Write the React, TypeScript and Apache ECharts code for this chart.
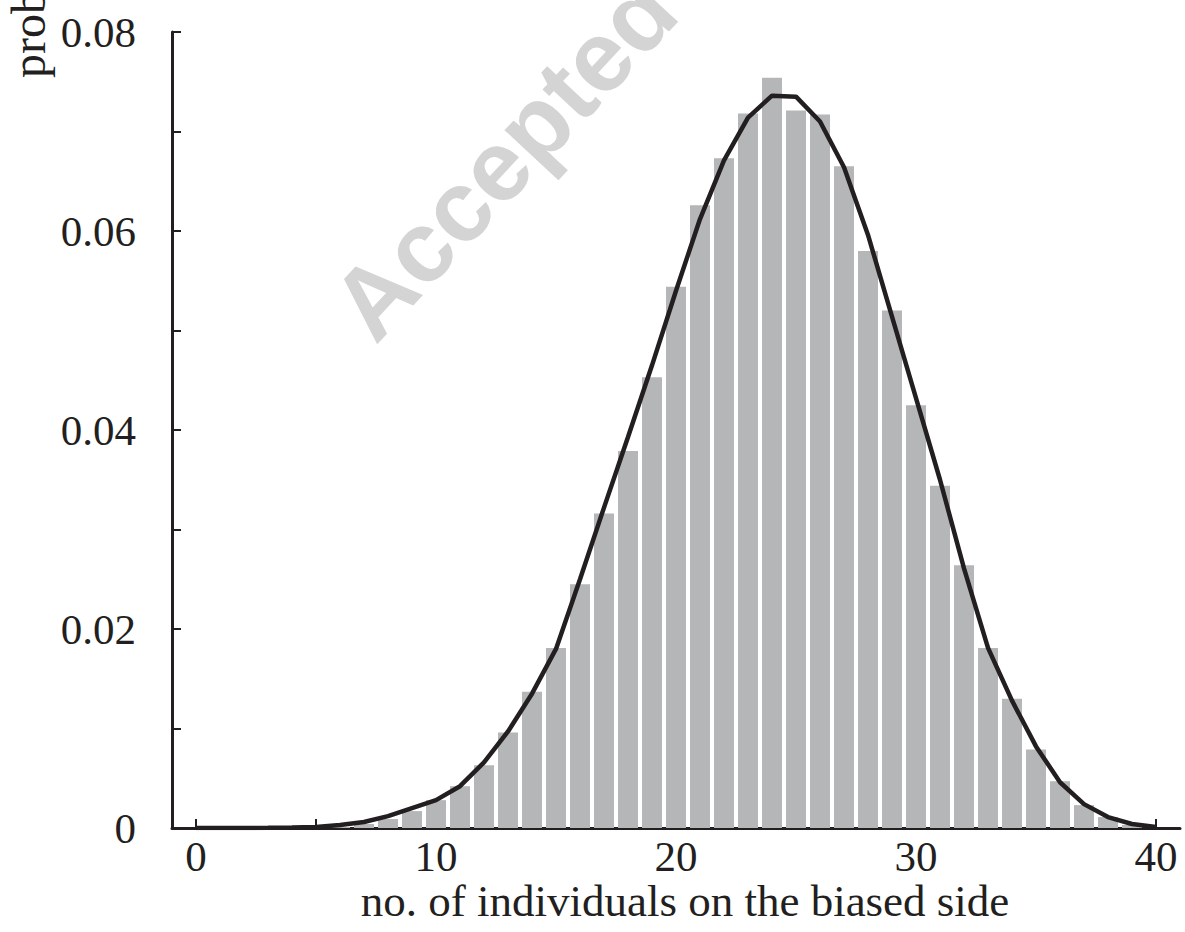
import React, { useEffect, useRef } from "react";
import * as echarts from "echarts";

const xValues = [0, 1, 2, 3, 4, 5, 6, 7, 8, 9, 10, 11, 12, 13, 14, 15, 16, 17, 18, 19, 20, 21, 22, 23, 24, 25, 26, 27, 28, 29, 30, 31, 32, 33, 34, 35, 36, 37, 38, 39, 40];

const barValues = [0, 0, 0, 0, 0, 0, 0.0001, 0.0004, 0.0009, 0.0017, 0.0028, 0.0042, 0.0063, 0.0096, 0.0137, 0.0181, 0.0245, 0.0316, 0.0379, 0.0453, 0.0544, 0.0626, 0.0673, 0.0718, 0.0754, 0.0721, 0.0717, 0.0665, 0.058, 0.052, 0.0425, 0.0344, 0.0264, 0.0181, 0.013, 0.0079, 0.0047, 0.0023, 0.0011, 0.0003, 0];

const curveValues = [0, 0, 0, 0.00002, 0.00005, 0.0001, 0.0003, 0.0006, 0.0012, 0.002, 0.0028, 0.0042, 0.0066, 0.0097, 0.0135, 0.018, 0.025, 0.0322, 0.0393, 0.0465, 0.054, 0.0612, 0.0671, 0.0714, 0.0736, 0.0735, 0.071, 0.0664, 0.0596, 0.0514, 0.0432, 0.035, 0.0261, 0.0181, 0.0128, 0.0082, 0.0046, 0.0024, 0.0011, 0.0004, 0.0001];

const xTickValues = [0, 5, 10, 15, 20, 25, 30, 35, 40];
const xLabelValues = [0, 10, 20, 30, 40];
const yLabelValues = [0, 0.02, 0.04, 0.06, 0.08];

const xTitle = "no. of individuals on the biased side";
const yTitle = "probability";
const watermark = "Accepted";

const INK = "#231f20";
const SERIF = "'Liberation Serif', 'Times New Roman', serif";

export default function App() {
  const ref = useRef<HTMLDivElement>(null);
  useEffect(() => {
    if (!ref.current) return;
    const chart = echarts.init(ref.current, null, { renderer: "svg" });
    const option: any = {
      animation: false,
      backgroundColor: "#ffffff",
      grid: { left: 172, right: 5, top: 32, bottom: 104, containLabel: false },
      xAxis: {
        type: "value",
        min: -1,
        max: 41,
        axisLine: { show: true, onZero: false, lineStyle: { color: INK, width: 3 } },
        axisTick: { show: true, inside: true, length: 9, customValues: xTickValues, lineStyle: { color: INK, width: 2 } },
        axisLabel: {
          customValues: xLabelValues,
          margin: 8,
          fontSize: 43,
          lineHeight: 40,
          fontFamily: SERIF,
          color: INK,
        },
        splitLine: { show: false },
      },
      yAxis: {
        type: "value",
        min: 0,
        max: 0.08,
        interval: 0.01,
        axisLine: { show: true, onZero: false, lineStyle: { color: INK, width: 3 } },
        axisTick: { show: true, inside: true, length: 9, lineStyle: { color: INK, width: 2 } },
        axisLabel: {
          customValues: yLabelValues,
          margin: 36,
          fontSize: 43,
          fontFamily: SERIF,
          color: INK,
          formatter: (v: number) => (v === 0 ? "0" : v.toFixed(2)),
        },
        splitLine: { show: false },
      },
      series: [
        {
          type: "bar",
          data: xValues.map((x, i) => [x, barValues[i]]),
          barWidth: 20,
          itemStyle: { color: "#b5b6b8" },
          z: 1,
        },
        {
          type: "line",
          data: xValues.map((x, i) => [x, curveValues[i]]),
          symbol: "none",
          smooth: false,
          lineStyle: { color: INK, width: 4.5 },
          z: 3,
        },
      ],
      graphic: [
        {
          type: "text",
          x: 685,
          y: 901,
          style: {
            text: xTitle,
            fontSize: 45,
            lineHeight: 42,
            fontFamily: SERIF,
            fill: INK,
            textAlign: "center",
            textVerticalAlign: "middle",
          },
        },
        {
          type: "text",
          x: 28,
          y: 78,
          rotation: Math.PI / 2,
          style: {
            text: yTitle,
            fontSize: 48,
            fontFamily: SERIF,
            fill: INK,
            textAlign: "left",
            textVerticalAlign: "middle",
          },
        },
        {
          type: "text",
          x: 350,
          y: 322,
          rotation: 0.82,
          z: 10,
          style: {
            text: watermark,
            fontSize: 100,
            fontWeight: "bold",
            fontFamily: "'Liberation Sans', Arial, sans-serif",
            fill: "#d4d4d4",
            textAlign: "left",
            textVerticalAlign: "middle",
          },
        },
      ],
    };
    chart.setOption(option);
    return () => chart.dispose();
  }, []);
  return (
    <div
      ref={ref}
      style={{ position: "absolute", left: 0, top: 0, width: 1185, height: 932 }}
    />
  );
}
